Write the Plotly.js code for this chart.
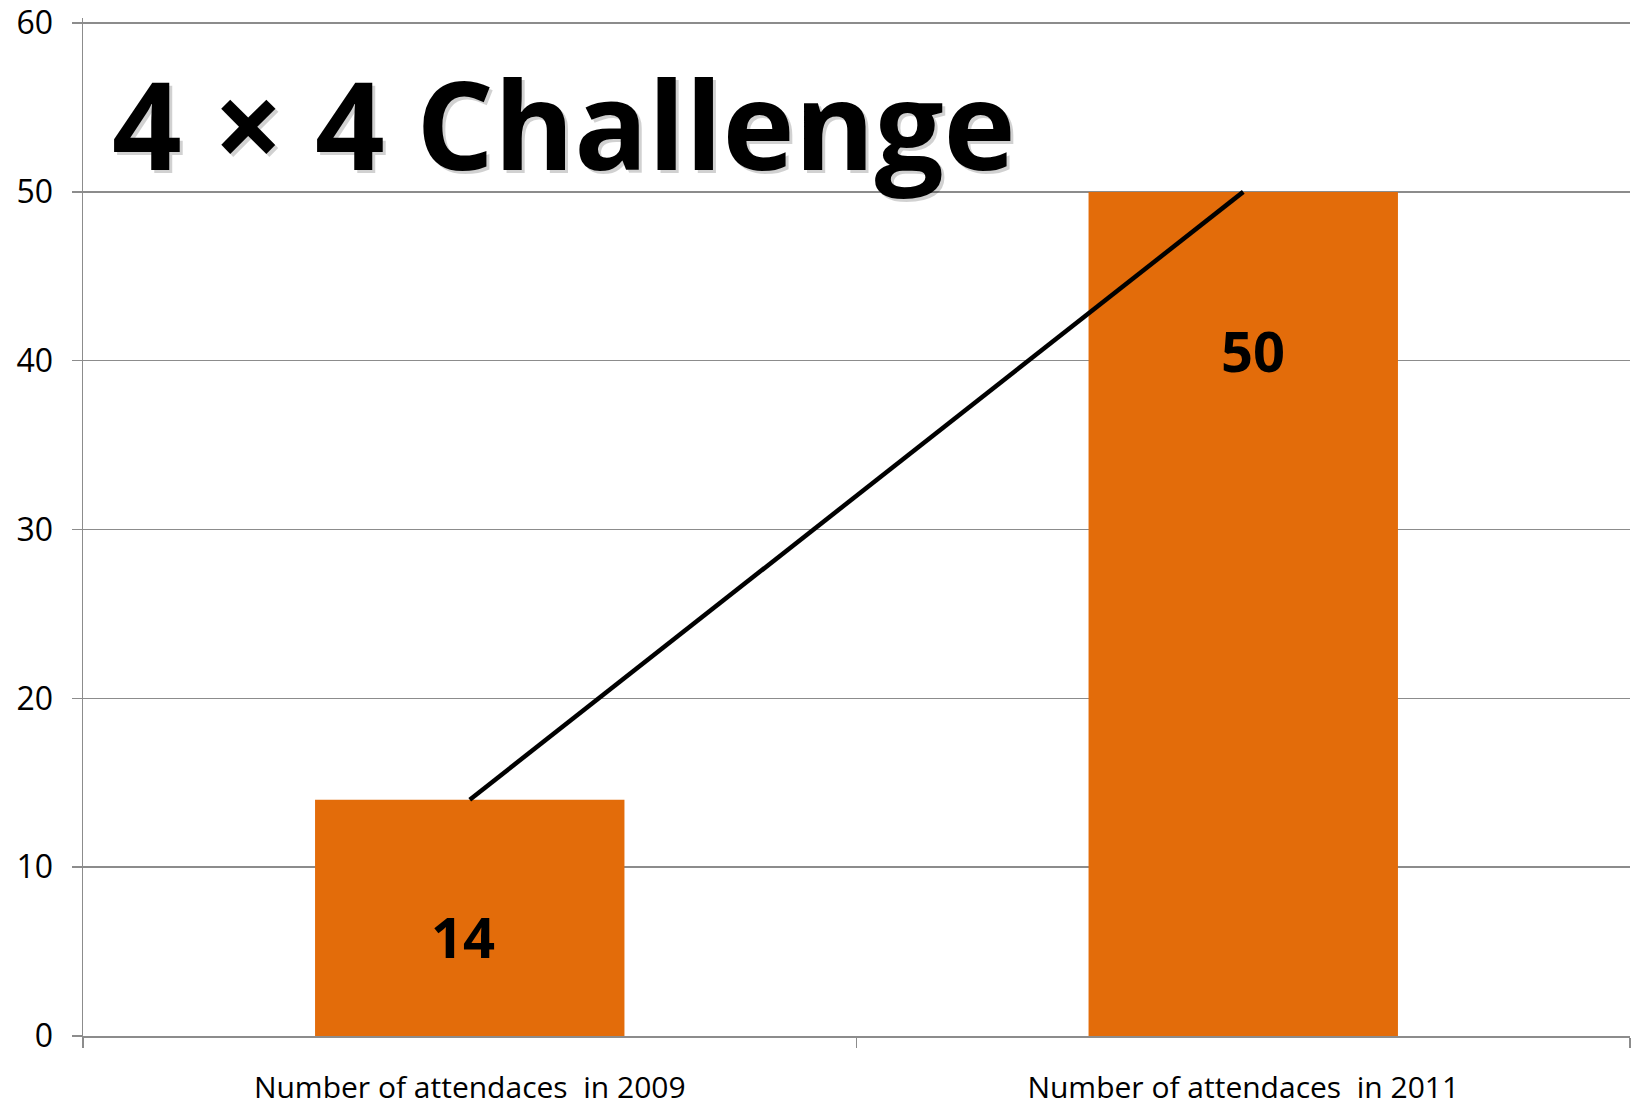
<!DOCTYPE html>
<html>
<head>
<meta charset="utf-8">
<script src="https://cdn.plot.ly/plotly-3.0.1.min.js"></script>
<style>html,body{margin:0;padding:0;background:#fff;}#chart{width:1635px;height:1108px;}</style>
</head>
<body>
<div id="chart"></div>
<script>
const categories = ["Number of attendaces  in 2009", "Number of attendaces  in 2011"];
const attendances = [14, 50];
const barLabels = ["14", "50"];
const yTickValues = [0, 10, 20, 30, 40, 50, 60];
const chartTitle = "4 \u00d7 4 Challenge";

const barTrace = {
  type: "bar",
  x: categories,
  y: attendances,
  width: 0.4,
  marker: {color: "#E36C0A", line: {width: 0}},
  hoverinfo: "x+y",
  showlegend: false
};
const lineTrace = {
  type: "scatter",
  mode: "lines",
  x: categories,
  y: attendances,
  line: {color: "#000000", width: 4.5},
  showlegend: false
};

const labelShifts = [-136, -158];
const labelXShifts = [-7, 10];
const annotations = categories.map((c, i) => ({
  x: c, y: attendances[i], xref: "x", yref: "y",
  text: "<b>" + barLabels[i] + "</b>",
  showarrow: false, yanchor: "middle", yshift: labelShifts[i], xshift: labelXShifts[i],
  font: {family: "Open Sans, sans-serif", size: 56, color: "#000"}
}));
annotations.push({
  xref: "paper", yref: "paper", x: 0.0175, y: 0.897, xanchor: "left", yanchor: "middle",
  xshift: 3, yshift: -3,
  text: "<b>" + chartTitle + "</b>", showarrow: false,
  font: {family: "Open Sans, sans-serif", size: 122, color: "rgba(0,0,0,0.18)"}
});
annotations.push({
  xref: "paper", yref: "paper", x: 0.0175, y: 0.897, xanchor: "left", yanchor: "middle",
  text: "<b>" + chartTitle + "</b>", showarrow: false,
  font: {family: "Open Sans, sans-serif", size: 122, color: "#000"}
});

const layout = {
  width: 1635, height: 1108,
  margin: {l: 83, r: 5, t: 18, b: 72},
  paper_bgcolor: "#fff", plot_bgcolor: "#fff",
  bargap: 0.6,
  xaxis: {
    type: "category",
    showline: true, linecolor: "#8c8c8c", linewidth: 2,
    ticks: "outside", tickson: "boundaries", ticklen: 10, tickcolor: "#8c8c8c", tickwidth: 1.5,
    tickfont: {family: "Open Sans, sans-serif", size: 30, color: "#000"},
    ticklabelstandoff: 24, ticklabeloverflow: "allow",
    showgrid: false, zeroline: false, fixedrange: true
  },
  yaxis: {
    range: [0, 60.3], tickvals: yTickValues,
    showline: true, linecolor: "#8c8c8c", linewidth: 1.5,
    ticks: "outside", ticklen: 10, tickcolor: "#8c8c8c", tickwidth: 1.5,
    showgrid: true, gridcolor: "#8c8c8c", gridwidth: 1.5,
    zeroline: false,
    tickfont: {family: "Open Sans, sans-serif", size: 32, color: "#000"},
    ticklabelstandoff: 12, ticklabeloverflow: "allow"
  },
  annotations: annotations
};

Plotly.newPlot("chart", [barTrace, lineTrace], layout, {displayModeBar: false, staticPlot: true});
</script>
</body>
</html>
